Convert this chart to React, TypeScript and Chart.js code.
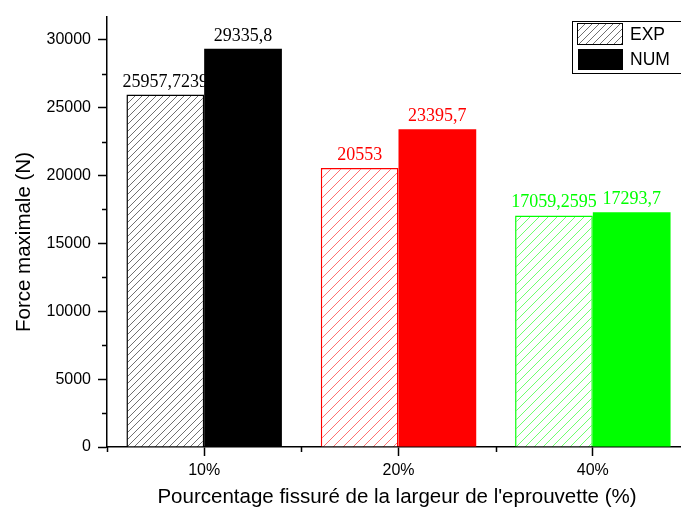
import React, { useEffect, useRef } from 'react';
import { Chart, registerables } from 'chart.js';

Chart.register(...registerables);

const categories = ['10%', '20%', '40%'];
const expValues = [25957.7239, 20553, 17059.2595];
const numValues = [29335.8, 23395.7, 17293.7];
const expLabels = ['25957,7239', '20553', '17059,2595'];
const numLabels = ['29335,8', '23395,7', '17293,7'];
const yTicks = [0, 5000, 10000, 15000, 20000, 25000, 30000];
const yMinorTicks = [2500, 7500, 12500, 17500, 22500, 27500];
const seriesNames = ['EXP', 'NUM'];
const groupColors = ['#000000', '#ff0000', '#00ff00'];
const hatchColors = ['#707070', '#ff7070', '#70ff70'];
const hatchSpacing = [7, 10, 9];
const yTitle = 'Force maximale (N)';
const xTitle = "Pourcentage fissuré de la largeur de l'eprouvette (%)";

const SANS = '"Liberation Sans", Arial, sans-serif';
const SERIF = '"Liberation Serif", "Times New Roman", serif';

function makeHatch(color: string, s: number): CanvasPattern | string {
  const c = document.createElement('canvas');
  c.width = s;
  c.height = s;
  const g = c.getContext('2d');
  if (!g) return '#ffffff';
  g.fillStyle = '#ffffff';
  g.fillRect(0, 0, s, s);
  g.strokeStyle = color;
  g.lineWidth = 1;
  g.beginPath();
  g.moveTo(0, s);
  g.lineTo(s, 0);
  g.moveTo(-2, 2);
  g.lineTo(2, -2);
  g.moveTo(s - 2, s + 2);
  g.lineTo(s + 2, s - 2);
  g.stroke();
  const p = g.createPattern(c, 'repeat');
  return p || '#ffffff';
}

function drawValueLabels(chart: any, index: number, labels: string[]) {
  const ctx = chart.ctx;
  const meta = chart.getDatasetMeta(index);
  ctx.save();
  ctx.font = '18px ' + SERIF;
  ctx.textAlign = 'center';
  ctx.textBaseline = 'alphabetic';
  meta.data.forEach((bar: any, i: number) => {
    ctx.fillStyle = groupColors[i];
    ctx.fillText(labels[i], bar.x, bar.y - 8);
  });
  ctx.restore();
}

export default function App() {
  const ref = useRef<HTMLCanvasElement | null>(null);

  useEffect(() => {
    const canvas = ref.current;
    if (!canvas) return;
    const patterns = hatchColors.map((c, i) => makeHatch(c, hatchSpacing[i]));

    const decor = {
      id: 'decor',
      beforeDatasetsDraw(chart: any) {
        drawValueLabels(chart, 0, expLabels);
      },
      afterDatasetsDraw(chart: any) {
        drawValueLabels(chart, 1, numLabels);
      },
      afterDraw(chart: any) {
        const ctx = chart.ctx;
        const ys = chart.scales.y;
        const area = chart.chartArea;
        ctx.save();
        ctx.strokeStyle = '#000';
        ctx.lineWidth = 1.5;
        ctx.beginPath();
        yMinorTicks.forEach((v) => {
          const y = Math.round(ys.getPixelForValue(v)) + 0.5;
          ctx.moveTo(area.left - 5, y);
          ctx.lineTo(area.left, y);
        });
        const cw = (area.right - area.left) / categories.length;
        for (let k = 0; k <= categories.length; k++) {
          const x = Math.round(area.left + k * cw) + 0.5;
          ctx.moveTo(x, area.bottom);
          ctx.lineTo(x, area.bottom + 5);
        }
        ctx.stroke();

        // axis titles
        ctx.fillStyle = '#000';
        ctx.font = '20.5px ' + SANS;
        ctx.textAlign = 'center';
        ctx.textBaseline = 'middle';
        ctx.fillText(xTitle, 397, 497);
        ctx.save();
        ctx.translate(24, 242);
        ctx.rotate(-Math.PI / 2);
        ctx.fillText(yTitle, 0, 0);
        ctx.restore();

        // legend
        ctx.lineWidth = 1;
        ctx.strokeStyle = '#000';
        ctx.fillStyle = '#fff';
        ctx.fillRect(572, 21, 140, 52);
        ctx.strokeRect(572.5, 21.5, 140, 52);
        ctx.fillStyle = patterns[0];
        ctx.fillRect(577, 23, 46, 22);
        ctx.strokeRect(577.5, 23.5, 45, 21);
        ctx.fillStyle = '#000';
        ctx.fillRect(578, 49, 45, 21);
        ctx.font = '17.5px ' + SANS;
        ctx.textAlign = 'left';
        ctx.textBaseline = 'middle';
        ctx.fillText(seriesNames[0], 630, 35);
        ctx.fillText(seriesNames[1], 630, 60);
        ctx.restore();
      },
    };

    const chart = new Chart(canvas, {
      type: 'bar',
      data: {
        labels: categories,
        datasets: [
          {
            label: seriesNames[0],
            data: expValues,
            backgroundColor: patterns as any,
            borderColor: groupColors,
            borderWidth: 1.5,
            categoryPercentage: 0.8,
            barPercentage: 1.0,
          },
          {
            label: seriesNames[1],
            data: numValues,
            backgroundColor: groupColors,
            borderWidth: 0,
            categoryPercentage: 0.8,
            barPercentage: 1.0,
          },
        ],
      },
      options: {
        responsive: false,
        animation: false,
        devicePixelRatio: 1,
        layout: { padding: { left: 0, top: 12, right: 10, bottom: 0 } },
        plugins: {
          legend: { display: false },
          tooltip: { enabled: false },
          title: { display: false },
        },
        scales: {
          x: {
            offset: true,
            grid: {
              offset: false,
              drawOnChartArea: false,
              drawTicks: true,
              tickLength: 9,
              tickColor: '#000',
              tickWidth: 1.5,
              color: '#000',
            },
            border: { display: true, color: '#000', width: 1.5 },
            ticks: {
              color: '#000',
              font: { family: SANS, size: 16 },
              padding: 5,
              maxRotation: 0,
            },
            afterFit: (s: any) => {
              s.height = 69;
            },
          },
          y: {
            min: 0,
            max: 31700,
            grid: {
              drawOnChartArea: false,
              drawTicks: true,
              tickLength: 9,
              tickColor: '#000',
              tickWidth: 1.5,
              color: '#000',
            },
            border: { display: true, color: '#000', width: 1.5 },
            ticks: {
              color: '#000',
              font: { family: SANS, size: 16 },
              padding: 7,
              includeBounds: false,
              callback: (v: any) => String(v),
            },
            afterBuildTicks: (s: any) => {
              s.ticks = yTicks.map((v) => ({ value: v }));
            },
            afterFit: (s: any) => {
              s.width = 107;
            },
          },
        },
      },
      plugins: [decor],
    } as any);

    return () => chart.destroy();
  }, []);

  return (
    <div
      style={{
        position: 'absolute',
        left: 0,
        top: 0,
        width: 681,
        height: 516,
        overflow: 'hidden',
        background: '#fff',
      }}
    >
      <canvas ref={ref} width={700} height={516} style={{ display: 'block' }} />
    </div>
  );
}
